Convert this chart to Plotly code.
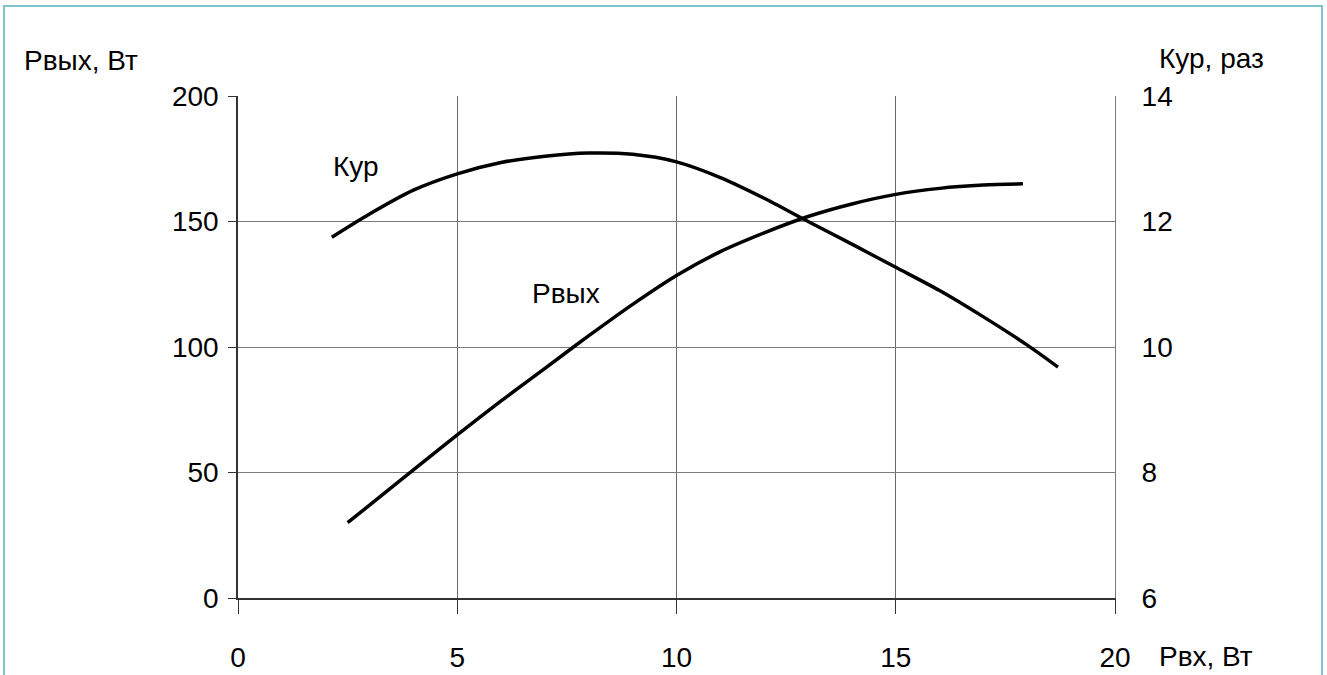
import plotly.graph_objects as go

# Input power, W (shared x axis)
p_in_out = [2.5, 3, 4, 5, 6, 7, 8, 9, 10, 11, 12, 13, 14, 15, 16, 17, 17.9]
# Output power, W
p_out = [30, 37, 51, 65, 78.5, 91.5, 104.5, 117, 128.5, 138, 145.5, 152, 157, 160.8, 163.2, 164.5, 165]

p_in_gain = [2.14, 3, 4, 5, 6, 7, 8, 9, 10, 11, 12, 13, 14, 15, 16, 17, 18, 18.7]
# Power gain, times
gain = [11.75, 12.12, 12.5, 12.76, 12.94, 13.04, 13.09, 13.07, 12.95, 12.7, 12.37,
        12.0, 11.64, 11.27, 10.9, 10.48, 10.03, 9.68]

x_ticks = [0, 5, 10, 15, 20]
y_ticks = [0, 50, 100, 150, 200]
y2_ticks = [6, 8, 10, 12, 14]

W, H = 1327, 675
L, R, T, B = 238, 1115, 96, 598
FONT = "Liberation Sans, Arial, sans-serif"
FS = 28


def px(x):
    return (x - L) / (R - L)


def py(y):
    return (B - y) / (B - T)


fig = go.Figure()
fig.add_trace(go.Scatter(x=p_in_out, y=p_out, mode="lines",
                         line=dict(color="black", width=3.5, shape="spline", smoothing=0.8),
                         yaxis="y", showlegend=False, hoverinfo="skip"))
fig.add_trace(go.Scatter(x=p_in_gain, y=gain, mode="lines",
                         line=dict(color="black", width=3.5, shape="spline", smoothing=0.8),
                         yaxis="y2", showlegend=False, hoverinfo="skip"))

fig.update_layout(
    width=W, height=H,
    margin=dict(l=L, r=W - R, t=T, b=H - B, pad=0, autoexpand=False),
    paper_bgcolor="white", plot_bgcolor="white",
    font=dict(family=FONT, size=FS, color="black"),
    xaxis=dict(range=[0, 20], tickvals=x_ticks, showgrid=True, gridcolor="#6a6a6a", gridwidth=1,
               showline=True, linecolor="#333333", linewidth=1.5, ticks="outside", ticklen=14,
               tickcolor="#333333", tickwidth=1, ticklabelstandoff=20, zeroline=False,
               automargin=False),
    yaxis=dict(range=[0, 200], tickvals=y_ticks, showgrid=True, gridcolor="#7a7a7a", gridwidth=1,
               showline=True, linecolor="#333333", linewidth=1.5, ticks="outside", ticklen=8,
               tickcolor="#333333", tickwidth=1, ticklabelstandoff=4, zeroline=False,
               automargin=False),
    yaxis2=dict(range=[6, 14], tickvals=y2_ticks, overlaying="y", side="right", showgrid=False,
                showline=True, linecolor="#7a7a7a", linewidth=1, ticks="", ticklabelstandoff=20,
                zeroline=False, automargin=False),
)

ann = dict(showarrow=False, font=dict(family=FONT, size=FS, color="black"))
fig.add_annotation(text="Рвых, Вт", xref="paper", yref="paper", x=px(22), y=py(60),
                   xanchor="left", yanchor="middle", **ann)
fig.add_annotation(text="Кур, раз", xref="paper", yref="paper", x=px(1157), y=py(58),
                   xanchor="left", yanchor="middle", **ann)
fig.add_annotation(text="Рвх, Вт", xref="paper", yref="paper", x=px(1157), y=py(656),
                   xanchor="left", yanchor="middle", **ann)
fig.add_annotation(text="Кур", xref="x", yref="y2", x=2.12, y=12.87, xanchor="left", yanchor="middle", **ann)
fig.add_annotation(text="Рвых", xref="x", yref="y", x=6.66, y=121.5, xanchor="left", yanchor="middle", **ann)

# light frame around the whole drawing
fig.add_shape(type="rect", xref="paper", yref="paper", x0=px(4), x1=px(1322), y0=py(6), y1=py(700),
              line=dict(color="#7fc3cf", width=2), fillcolor="rgba(0,0,0,0)", layer="below")

fig.write_html("out.html")
